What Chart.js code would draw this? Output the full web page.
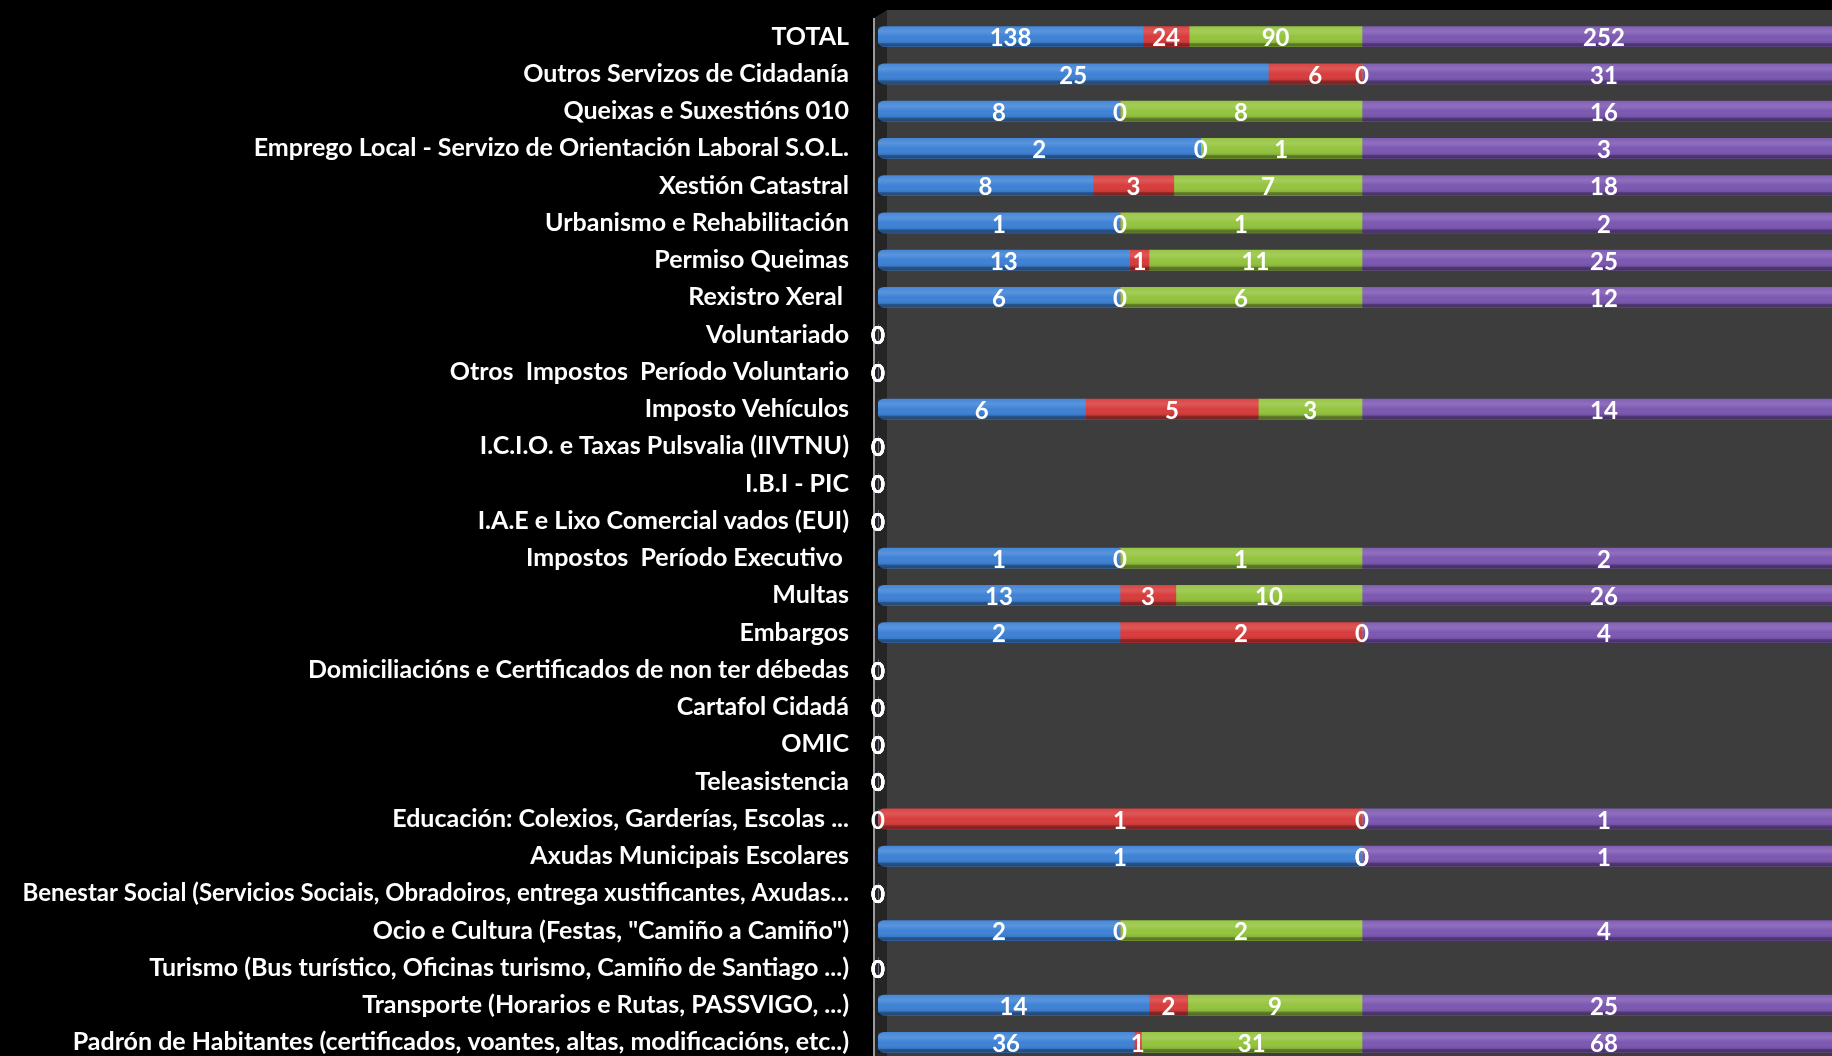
<!DOCTYPE html>
<html>
<head>
<meta charset="utf-8">
<script src="https://cdn.jsdelivr.net/npm/chart.js@4.4.1/dist/chart.umd.min.js"></script>
<style>
html, body { margin: 0; background: #000; overflow: hidden; }
#wrap { width: 1850px; height: 1063px; }
</style>
</head>
<body>
<div id="wrap"><canvas id="barChart"></canvas></div>
<script>
// categories, top to bottom
var categories = [
    'TOTAL',
    'Outros Servizos de Cidadanía',
    'Queixas e Suxestións 010',
    'Emprego Local - Servizo de Orientación Laboral S.O.L.',
    'Xestión Catastral',
    'Urbanismo e Rehabilitación',
    'Permiso Queimas',
    'Rexistro Xeral ',
    'Voluntariado',
    'Otros  Impostos  Período Voluntario',
    'Imposto Vehículos',
    'I.C.I.O. e Taxas Pulsvalia (IIVTNU)',
    'I.B.I - PIC',
    'I.A.E e Lixo Comercial vados (EUI)',
    'Impostos  Período Executivo ',
    'Multas',
    'Embargos',
    'Domiciliacións e Certificados de non ter débedas',
    'Cartafol Cidadá',
    'OMIC',
    'Teleasistencia',
    'Educación: Colexios, Garderías, Escolas ...',
    'Axudas Municipais Escolares',
    'Benestar Social (Servicios Sociais, Obradoiros, entrega xustificantes, Axudas…',
    'Ocio e Cultura (Festas, "Camiño a Camiño")',
    'Turismo (Bus turístico, Oficinas turismo, Camiño de Santiago ...)',
    'Transporte (Horarios e Rutas, PASSVIGO, ...)',
    'Padrón de Habitantes (certificados, voantes, altas, modificacións, etc..)'
];

var serie1 = [138, 25, 8, 2, 8, 1, 13, 6, 0, 0, 6, 0, 0, 0, 1, 13, 2, 0, 0, 0, 0, 0, 1, 0, 2, 0, 14, 36];
var serie2 = [24, 6, 0, 0, 3, 0, 1, 0, 0, 0, 5, 0, 0, 0, 0, 3, 2, 0, 0, 0, 0, 1, 0, 0, 0, 0, 2, 1];
var serie3 = [90, 0, 8, 1, 7, 1, 11, 6, 0, 0, 3, 0, 0, 0, 1, 10, 0, 0, 0, 0, 0, 0, 0, 0, 2, 0, 9, 31];
var totals = [252, 31, 16, 3, 18, 2, 25, 12, 0, 0, 14, 0, 0, 0, 2, 26, 4, 0, 0, 0, 0, 1, 1, 0, 4, 0, 25, 68];

var rawSeries = [serie1, serie2, serie3, totals];
var colors = ['#3e82d6', '#d83c3c', '#94c43e', '#7c58b2'];

// 100% stacked: share of each row's grand sum
function toPct(arr) {
    return arr.map(function (v, i) {
        var sum = serie1[i] + serie2[i] + serie3[i] + totals[i];
        return sum ? v / sum * 100 : 0;
    });
}

function leftRadius(si) {
    return function (c) {
        var i = c.dataIndex, first = true;
        for (var k = 0; k < si; k++) { if (rawSeries[k][i] > 0) first = false; }
        var r = first ? 6 : 0;
        return { topLeft: r, bottomLeft: r, topRight: 0, bottomRight: 0 };
    };
}

var backdrop = {
    id: 'backdrop',
    beforeDraw: function (chart) {
        var ctx = chart.ctx, a = chart.chartArea;
        ctx.save();
        ctx.fillStyle = '#000';
        ctx.fillRect(0, 0, chart.width, chart.height);
        ctx.fillStyle = '#3d3d3d';
        ctx.fillRect(a.left + 9, a.top - 8, chart.width, chart.height);
        ctx.fillStyle = '#252525';
        ctx.beginPath();
        ctx.moveTo(a.left - 4, a.top);
        ctx.lineTo(a.left + 9, a.top - 8);
        ctx.lineTo(a.left + 9, chart.height);
        ctx.lineTo(a.left - 4, chart.height);
        ctx.fill();
        ctx.fillStyle = '#9a9a9a';
        ctx.fillRect(a.left - 5, a.top, 2, chart.height);
        ctx.restore();
    }
};

var shading = {
    id: 'shading',
    afterDatasetsDraw: function (chart) {
        var ctx = chart.ctx, a = chart.chartArea;
        ctx.save();
        ctx.beginPath();
        ctx.rect(a.left - 6, a.top - 10, a.right - a.left + 10, a.bottom - a.top + 20);
        ctx.clip();
        chart.data.datasets.forEach(function (ds, si) {
            chart.getDatasetMeta(si).data.forEach(function (bar) {
                var w = bar.x - bar.base;
                if (w <= 0) return;
                var h = bar.height, y0 = bar.y - h / 2;
                var g = ctx.createLinearGradient(0, y0, 0, y0 + h);
                g.addColorStop(0, 'rgba(255,255,255,0.05)');
                g.addColorStop(0.25, 'rgba(255,255,255,0.14)');
                g.addColorStop(0.5, 'rgba(255,255,255,0)');
                g.addColorStop(0.8, 'rgba(0,0,0,0.08)');
                g.addColorStop(0.85, 'rgba(0,0,0,0.35)');
                g.addColorStop(1, 'rgba(0,0,0,0.45)');
                ctx.fillStyle = g;
                ctx.fillRect(bar.base, y0, w, h);
            });
        });
        ctx.restore();
    }
};

var valueLabels = {
    id: 'valueLabels',
    afterDatasetsDraw: function (chart) {
        var ctx = chart.ctx;
        ctx.save();
        ctx.font = 'bold 24px Lato';
        ctx.fillStyle = '#fff';
        ctx.textAlign = 'center';
        ctx.textBaseline = 'middle';
        chart.data.datasets.forEach(function (ds, si) {
            chart.getDatasetMeta(si).data.forEach(function (bar, i) {
                ctx.fillText(String(rawSeries[si][i]), (bar.x + bar.base) / 2, bar.y + 2);
            });
        });
        ctx.restore();
    }
};

var ctx = document.getElementById('barChart').getContext('2d');
var barChart = new Chart(ctx, {
    type: 'bar',
    data: {
        labels: categories,
        datasets: rawSeries.map(function (arr, si) {
            return {
                label: 'Serie ' + (si + 1),
                data: toPct(arr),
                backgroundColor: colors[si],
                borderWidth: 0,
                borderSkipped: false,
                borderRadius: leftRadius(si),
                barThickness: 20
            };
        })
    },
    options: {
        indexAxis: 'y',
        responsive: true,
        maintainAspectRatio: false,
        animation: false,
        layout: { padding: { top: 18, right: 4, bottom: 2, left: 0 } },
        plugins: {
            legend: { display: false },
            tooltip: { enabled: false }
        },
        scales: {
            x: {
                display: false,
                stacked: true,
                min: 0,
                max: 100
            },
            y: {
                stacked: true,
                grid: { display: false, drawTicks: false },
                border: { display: false },
                ticks: {
                    color: '#fff',
                    padding: 29,
                    autoSkip: false,
                    font: function (c) {
                        // the long truncated label is a touch smaller so it stays on screen
                        return { family: 'Lato', weight: 'bold', size: c.index === 23 ? 24 : 25 };
                    }
                },
                afterFit: function (s) {
                    s.width = 878;
                    s.paddingTop = 0;
                    s.paddingBottom = 0;
                }
            }
        }
    },
    plugins: [backdrop, shading, valueLabels]
});
</script>
</body>
</html>
